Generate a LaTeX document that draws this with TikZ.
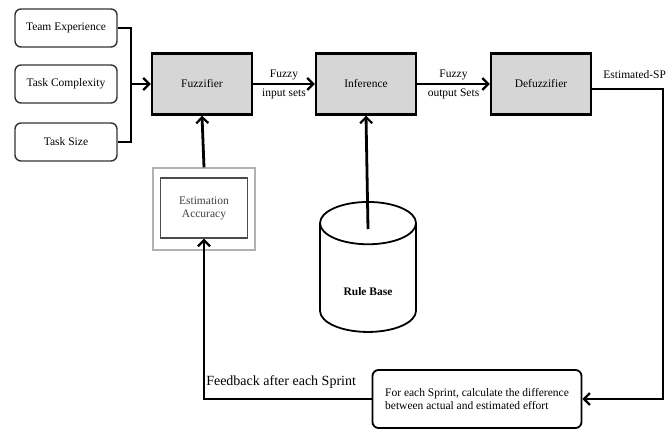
\documentclass[tikz,border=0pt]{standalone}
\usepackage{fontspec}
\setmainfont{Liberation Serif}
\usepackage{tikz}
\usetikzlibrary{arrows.meta,positioning,shapes.geometric}

\begin{document}
\begin{tikzpicture}[
        x=1pt, y=-1pt, font=\fontsize{11.5}{13}\selectfont,
        every node/.style={align=center, inner sep=2pt},
        inbox/.style  ={rectangle, rounded corners=6pt, draw=black!80,
                        line width=1.4pt, fill=white,
                        minimum width=102pt, minimum height=38pt},
        proc/.style   ={rectangle, draw=black, line width=2.4pt,
                        fill=black!16, minimum width=100pt, minimum height=61pt},
        accframe/.style={rectangle, draw=black!30, line width=1.1pt,
                        minimum width=102pt, minimum height=82pt},
        accbox/.style ={rectangle, draw=black!70, line width=1.4pt,
                        text=black!75, minimum width=87pt, minimum height=60pt},
        rulebase/.style={cylinder, shape border rotate=90, aspect=0.8,
                        draw=black, line width=1.8pt, fill=white,
                        font=\fontsize{11.5}{13}\selectfont\bfseries,
                        minimum width=96pt, minimum height=130pt},
        note/.style   ={rectangle, rounded corners=6pt, draw=black,
                        line width=1.8pt, align=left, inner xsep=5pt,
                        minimum width=209pt, minimum height=58pt},
        flow/.style   ={-{Straight Barb[length=6pt,width=12pt,line width=2.2pt]},
                        line width=2.8pt},
        link/.style   ={line width=2.8pt},
    ]
        \useasboundingbox (0,0) rectangle (671,430);

        % ===================== Entradas =====================
        \node[inbox]   (te) at (66, 28)  {Team Experience};
        \node[inbox]   (tc) at (66, 84)  {Task Complexity};
        \node[inbox]   (ts) at (66, 142) {Task Size};
        \coordinate    (jn) at (131, 84);

        % ===================== Bloques del sistema difuso =====================
        \node[proc]    (fz) at (202, 84) {Fuzzifier};
        \node[proc]    (in) at (366, 84) {Inference};
        \node[proc]    (df) at (541, 84) {Defuzzifier};

        % --- realimentacion y base de reglas ---
        \node[accframe] (accfr) at (204, 209) {};
        \node[accbox]   (acc)   at (204, 208) {Estimation\\Accuracy};
        \node[rulebase] (rb)    at (368, 281) {\\[16pt]Rule Base};
        \coordinate     (rbc)   at (368, 229);
        \node[note]     (fb)    at (477, 399)
            {For each Sprint, calculate the difference\\between actual and estimated effort};
        \coordinate     (cr)    at (663, 89);

        % ===================== Flechas =====================
        \draw[link] (te.east) -| (jn) |- (ts.east);
        \draw[flow] (jn) -- (fz.west);
        \draw[flow] (fz) -- node[above=1pt] {Fuzzy} node[below=1pt] {input sets} (in);
        \draw[flow] (in) -- node[above=1pt] {Fuzzy} node[below=1pt] {output Sets} (df);
        \draw[flow] (rbc) -- (in.south);
        \draw[flow] (accfr.north) -- (fz.south);

        % Salida y lazo de retroalimentacion.
        \draw[flow] (df.east |- cr) -- node[pos=0.6, above=7pt] {Estimated-SP} (cr) |- (fb.east);
        \draw[flow] (fb.west) -| node[pos=0.27, above=7pt, font=\fontsize{14}{16}\selectfont]
            {Feedback after each Sprint} (acc.south);
    \end{tikzpicture}
\end{document}
